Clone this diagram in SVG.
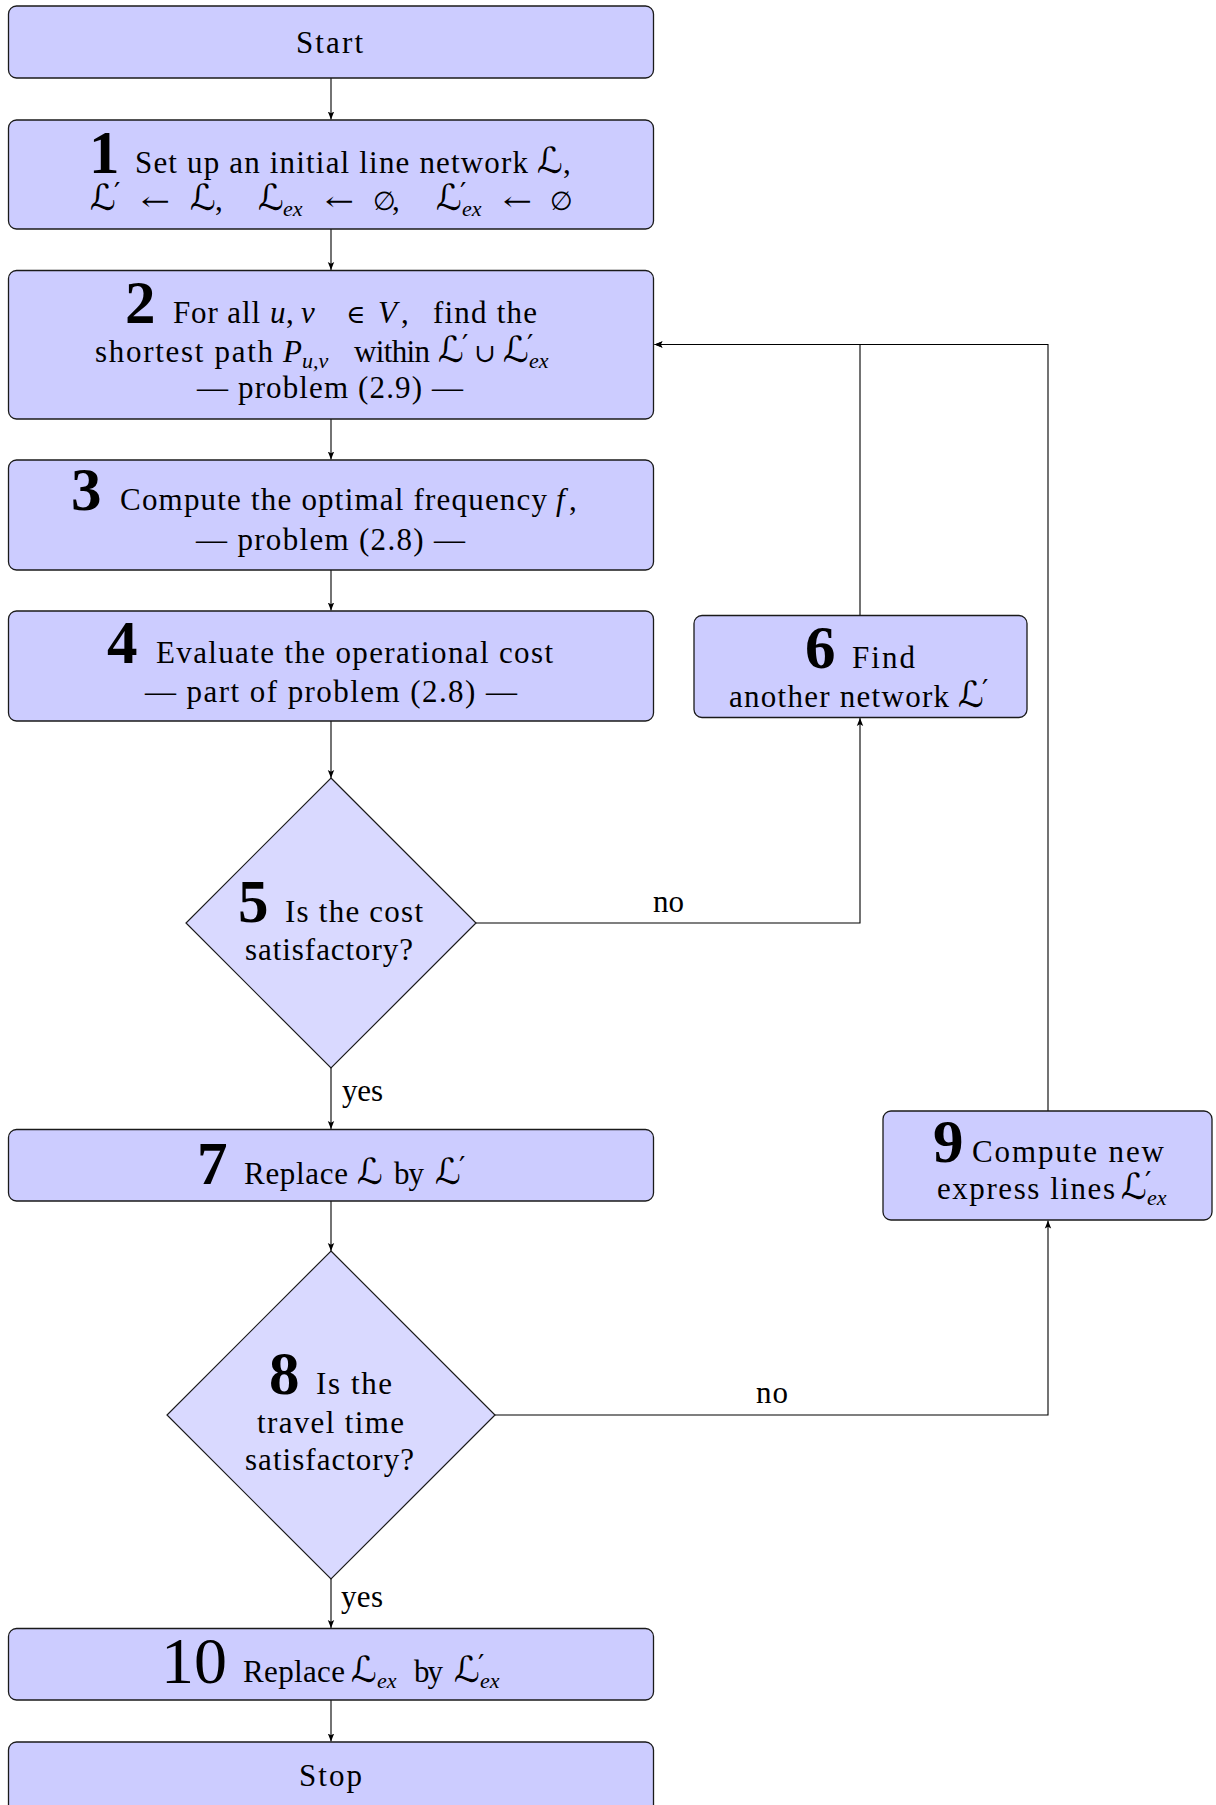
<svg xmlns="http://www.w3.org/2000/svg" width="1216" height="1805" viewBox="0 0 1216 1805">
<style>
.box{fill:#ccccff;stroke:#1a1a1a;stroke-width:1.3}
.dia{fill:#d9d9ff;stroke:#1a1a1a;stroke-width:1.2}
.t{font-family:'Liberation Serif','DejaVu Serif',serif;font-size:31px;fill:#000}
.i{font-family:'Liberation Serif','DejaVu Serif',serif;font-size:31px;font-style:italic;fill:#000}
.n{font-family:'Liberation Serif','DejaVu Serif',serif;font-size:61px;font-weight:bold;fill:#000}
.n0{font-family:'Liberation Serif','DejaVu Serif',serif;font-size:66px;fill:#000}
.L{font-family:'DejaVu Serif','DejaVu Sans','Noto Sans',serif;font-size:36px;fill:#000}
.p{font-family:'DejaVu Sans','DejaVu Serif',sans-serif;font-size:28px;fill:#000}
.s{font-family:'Liberation Serif','DejaVu Serif',serif;font-size:22px;font-style:italic;fill:#000}
.sy{font-family:'DejaVu Serif','DejaVu Sans',serif;font-size:26px;fill:#000}
.c{fill:none;stroke:#000;stroke-width:1.1}
</style>
<defs>
<marker id="ah" markerUnits="userSpaceOnUse" markerWidth="9" markerHeight="8" refX="8" refY="4" orient="auto">
<path d="M0,0.8 L8,4 L0,7.2 L1.8,4 Z" fill="#000"/>
</marker>
</defs>

<g id="connectors">
<line class="c" x1="331" y1="78" x2="331" y2="119.5" marker-end="url(#ah)"/>
<line class="c" x1="331" y1="229" x2="331" y2="270" marker-end="url(#ah)"/>
<line class="c" x1="331" y1="419" x2="331" y2="459.5" marker-end="url(#ah)"/>
<line class="c" x1="331" y1="570" x2="331" y2="610.5" marker-end="url(#ah)"/>
<line class="c" x1="331" y1="721" x2="331" y2="778" marker-end="url(#ah)"/>
<line class="c" x1="331" y1="1068" x2="331" y2="1129" marker-end="url(#ah)"/>
<line class="c" x1="331" y1="1201" x2="331" y2="1251" marker-end="url(#ah)"/>
<line class="c" x1="331" y1="1579" x2="331" y2="1628" marker-end="url(#ah)"/>
<line class="c" x1="331" y1="1700" x2="331" y2="1741.5" marker-end="url(#ah)"/>
<polyline class="c" points="476,923 860,923 860,718" marker-end="url(#ah)"/>
<polyline class="c" points="860,615.5 860,344.5 654.5,344.5" marker-end="url(#ah)"/>
<polyline class="c" points="495,1415 1048,1415 1048,1220.5" marker-end="url(#ah)"/>
<polyline class="c" points="1048,1111 1048,344.5 654.5,344.5" marker-end="url(#ah)"/>
<text class="t" x="653" y="912" textLength="31">no</text>
<text class="t" x="756" y="1403" textLength="32">no</text>
<text class="t" x="342" y="1101" textLength="41">yes</text>
<text class="t" x="341" y="1607" textLength="42">yes</text>
</g>

<g id="start">
<rect class="box" x="8.5" y="6" width="645" height="72" rx="8"/>
<text class="t" x="296" y="53" textLength="67">Start</text>
</g>

<g id="n1">
<rect class="box" x="8.5" y="120" width="645" height="109" rx="8"/>
<text class="n" x="89" y="173">1</text>
<text class="t" x="135" y="173" textLength="393">Set up an initial line network</text>
<text class="L" x="537" y="173">ℒ</text><text class="t" x="563" y="173">,</text>
<text class="L" x="90" y="210">ℒ</text><text class="p" x="114" y="203">′</text>
<text class="sy" x="141" y="210" textLength="29" lengthAdjust="spacingAndGlyphs">←</text>
<text class="L" x="190" y="210">ℒ</text><text class="t" x="215" y="210">,</text>
<text class="L" x="258" y="210">ℒ</text><text class="s" x="283" y="216">ex</text>
<text class="sy" x="325" y="210" textLength="29" lengthAdjust="spacingAndGlyphs">←</text>
<text class="sy" x="373" y="210">∅</text><text class="t" x="392" y="210">,</text>
<text class="L" x="436" y="210">ℒ</text><text class="p" x="460" y="203">′</text><text class="s" x="462" y="216">ex</text>
<text class="sy" x="503" y="210" textLength="29" lengthAdjust="spacingAndGlyphs">←</text>
<text class="sy" x="550" y="210">∅</text>
</g>

<g id="n2">
<rect class="box" x="8.5" y="270.5" width="645" height="148.5" rx="8"/>
<text class="n" x="125" y="323">2</text>
<text class="t" x="173" y="323" textLength="87">For all</text>
<text class="i" x="270" y="323">u</text><text class="t" x="286" y="323">,</text><text class="i" x="301" y="323">v</text>
<text class="sy" x="346" y="323">∈</text>
<text class="i" x="378" y="323">V</text><text class="t" x="401" y="323">,</text>
<text class="t" x="433" y="323" textLength="104">find the</text>
<text class="t" x="95" y="362" textLength="178">shortest path</text>
<text class="i" x="283" y="362">P</text><text class="s" x="302" y="368">u,v</text>
<text class="t" x="354" y="362" textLength="76">within</text>
<text class="L" x="438" y="362">ℒ</text><text class="p" x="462" y="355">′</text>
<text class="sy" x="474" y="362" font-size="30">∪</text>
<text class="L" x="503" y="362">ℒ</text><text class="p" x="527" y="355">′</text><text class="s" x="529" y="368">ex</text>
<text class="t" x="197" y="398" textLength="266">— problem (2.9) —</text>
</g>

<g id="n3">
<rect class="box" x="8.5" y="460" width="645" height="110" rx="8"/>
<text class="n" x="71" y="510">3</text>
<text class="t" x="120" y="510" textLength="427">Compute the optimal frequency</text>
<text class="i" x="556" y="510">f</text><text class="t" x="569" y="510">,</text>
<text class="t" x="196" y="550" textLength="269">— problem (2.8) —</text>
</g>

<g id="n4">
<rect class="box" x="8.5" y="611" width="645" height="110" rx="8"/>
<text class="n" x="107" y="663">4</text>
<text class="t" x="156" y="663" textLength="397">Evaluate the operational cost</text>
<text class="t" x="145" y="702" textLength="372">— part of problem (2.8) —</text>
</g>

<g id="n5">
<polygon class="dia" points="331,778 476,923 331,1068 186,923"/>
<text class="n" x="238" y="922">5</text>
<text class="t" x="285" y="922" textLength="138">Is the cost</text>
<text class="t" x="245" y="960" textLength="168">satisfactory?</text>
</g>

<g id="n6">
<rect class="box" x="694" y="615.5" width="333" height="102" rx="8"/>
<text class="n" x="805" y="668">6</text>
<text class="t" x="852" y="668" textLength="63">Find</text>
<text class="t" x="729" y="707" textLength="220">another network</text>
<text class="L" x="958" y="707">ℒ</text><text class="p" x="982" y="700">′</text>
</g>

<g id="n7">
<rect class="box" x="8.5" y="1129.5" width="645" height="71.5" rx="8"/>
<text class="n" x="197" y="1184">7</text>
<text class="t" x="244" y="1184" textLength="104">Replace</text>
<text class="L" x="357" y="1184">ℒ</text>
<text class="t" x="394" y="1184" textLength="30">by</text>
<text class="L" x="435" y="1184">ℒ</text><text class="p" x="459" y="1177">′</text>
</g>

<g id="n8">
<polygon class="dia" points="331,1251 495,1415 331,1579 167,1415"/>
<text class="n" x="269" y="1394">8</text>
<text class="t" x="316" y="1394" textLength="76">Is the</text>
<text class="t" x="257" y="1433" textLength="147">travel time</text>
<text class="t" x="245" y="1470" textLength="169">satisfactory?</text>
</g>

<g id="n9">
<rect class="box" x="883" y="1111" width="329" height="109" rx="8"/>
<text class="n" x="933" y="1162">9</text>
<text class="t" x="972" y="1162" textLength="192">Compute new</text>
<text class="t" x="937" y="1199" textLength="178">express lines</text>
<text class="L" x="1121" y="1199">ℒ</text><text class="p" x="1145" y="1192">′</text><text class="s" x="1147" y="1205">ex</text>
</g>

<g id="n10">
<rect class="box" x="8.5" y="1628.5" width="645" height="71.5" rx="8"/>
<text class="n0" x="161" y="1683">10</text>
<text class="t" x="243" y="1682" textLength="102">Replace</text>
<text class="L" x="351" y="1682">ℒ</text><text class="s" x="377" y="1688">ex</text>
<text class="t" x="414" y="1682" textLength="29">by</text>
<text class="L" x="454" y="1682">ℒ</text><text class="p" x="478" y="1675">′</text><text class="s" x="480" y="1688">ex</text>
</g>

<g id="stop">
<rect class="box" x="8.5" y="1742" width="645" height="72" rx="8"/>
<text class="t" x="299" y="1786" textLength="63">Stop</text>
</g>
</svg>
